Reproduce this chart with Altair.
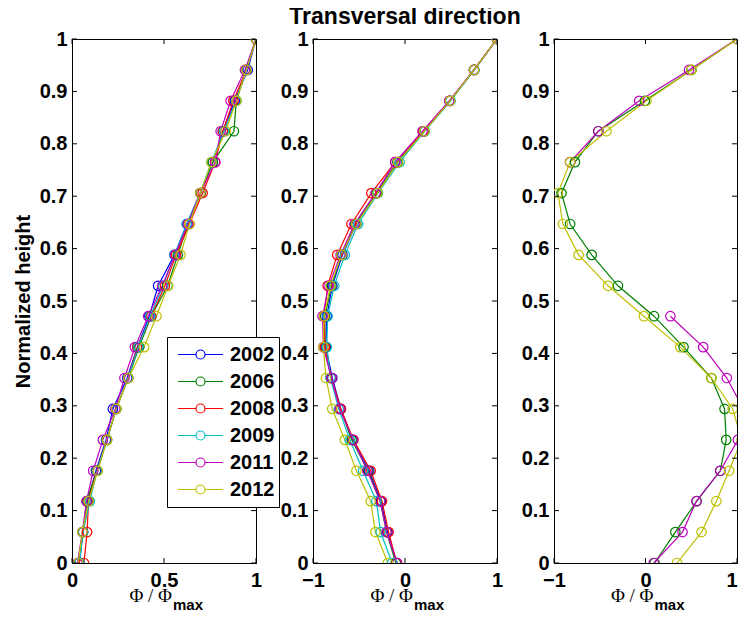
import altair as alt
import pandas as pd

years = ["2002", "2006", "2008", "2009", "2011", "2012"]
colors = ["#0000ff", "#008000", "#ff0000", "#00bfbf", "#bf00bf", "#bfbf00"]

heights = [0.0, 0.059, 0.118, 0.176, 0.235, 0.294, 0.353, 0.412, 0.471,
           0.529, 0.588, 0.647, 0.706, 0.765, 0.824, 0.882, 0.941, 1.0]

# Panel 1 (bottom -> top)
p1_2002 = [0.04, 0.06, 0.085, 0.13, 0.185, 0.222, 0.30, 0.355, 0.42, 0.468, 0.557, 0.624, 0.697, 0.765, 0.82, 0.885, 0.955, 1.0]
p1_2006 = [0.035, 0.06, 0.08, 0.135, 0.19, 0.24, 0.305, 0.365, 0.43, 0.52, 0.575, 0.63, 0.70, 0.765, 0.88, 0.893, 0.945, 1.0]
p1_2008 = [0.065, 0.082, 0.09, 0.135, 0.19, 0.24, 0.305, 0.355, 0.43, 0.505, 0.565, 0.638, 0.71, 0.778, 0.82, 0.877, 0.948, 1.0]
p1_2009 = [0.04, 0.06, 0.097, 0.136, 0.19, 0.24, 0.305, 0.36, 0.425, 0.495, 0.557, 0.624, 0.697, 0.758, 0.826, 0.893, 0.948, 1.0]
p1_2011 = [0.03, 0.056, 0.079, 0.115, 0.168, 0.235, 0.285, 0.342, 0.414, 0.49, 0.56, 0.63, 0.697, 0.778, 0.808, 0.862, 0.94, 1.0]
p1_2012 = [0.034, 0.056, 0.09, 0.14, 0.19, 0.24, 0.306, 0.392, 0.459, 0.522, 0.59, 0.638, 0.697, 0.758, 0.835, 0.893, 0.948, 1.0]

# Panel 2
p2_2002 = [-0.09, -0.19, -0.26, -0.39, -0.57, -0.697, -0.79, -0.86, -0.85, -0.79, -0.68, -0.53, -0.31, -0.08, 0.21, 0.49, 0.75, 1.0]
p2_2006 = [-0.10, -0.20, -0.27, -0.40, -0.58, -0.70, -0.80, -0.87, -0.87, -0.80, -0.69, -0.54, -0.31, -0.08, 0.21, 0.49, 0.75, 1.0]
p2_2008 = [-0.09, -0.178, -0.25, -0.373, -0.56, -0.697, -0.80, -0.87, -0.88, -0.841, -0.737, -0.582, -0.366, -0.106, 0.20, 0.488, 0.751, 1.0]
p2_2009 = [-0.14, -0.265, -0.311, -0.456, -0.60, -0.72, -0.81, -0.85, -0.841, -0.769, -0.654, -0.51, -0.294, -0.059, 0.215, 0.495, 0.755, 1.0]
p2_2011 = [-0.085, -0.20, -0.27, -0.41, -0.564, -0.71, -0.80, -0.888, -0.896, -0.83, -0.70, -0.55, -0.32, -0.106, 0.19, 0.48, 0.75, 1.0]
p2_2012 = [-0.186, -0.322, -0.373, -0.528, -0.654, -0.791, -0.859, -0.888, -0.88, -0.81, -0.69, -0.53, -0.30, -0.075, 0.211, 0.49, 0.751, 1.0]

# Panel 3 (None = gap)
p3_2006 = [0.10, 0.326, 0.56, 0.817, 0.882, 0.864, 0.72, 0.416, 0.093, -0.301, -0.588, -0.824, -0.918, -0.771, -0.516, -0.007, 0.502, 1.0]
p3_2011 = [0.09, 0.405, 0.556, 0.817, 1.01, 1.07, 0.889, 0.631, 0.272, None, None, None, None, -0.824, -0.516, -0.068, 0.476, 1.0]
p3_2012 = [0.344, 0.613, 0.774, 0.914, 1.05, 0.953, 0.72, 0.38, -0.018, -0.409, -0.731, -0.903, -0.957, -0.824, -0.427, 0.01, 0.502, 1.0]

yticks = [0, 0.1, 0.2, 0.3, 0.4, 0.5, 0.6, 0.7, 0.8, 0.9, 1]
xticks1 = [0, 0.5, 1]
xticks23 = [-1, 0, 1]

panel1 = {"2002": p1_2002, "2006": p1_2006, "2008": p1_2008, "2009": p1_2009, "2011": p1_2011, "2012": p1_2012}
panel2 = {"2002": p2_2002, "2006": p2_2006, "2008": p2_2008, "2009": p2_2009, "2011": p2_2011, "2012": p2_2012}
panel3 = {"2006": p3_2006, "2011": p3_2011, "2012": p3_2012}


def frame(panel):
    rows = []
    for yr, vals in panel.items():
        seg = 0
        for h, v in zip(heights, vals):
            if v is None:
                seg += 1
                continue
            rows.append({"year": yr, "h": h, "phi": v, "seg": f"{yr}-{seg}"})
    return pd.DataFrame(rows)


H = 524
FONT = "Liberation Sans"
SYM = "M-1,0L-0.2,0M0.2,0L1,0M0.2,0A0.2,0.2,0,1,1,-0.2,0A0.2,0.2,0,1,1,0.2,0Z"

legend = alt.Legend(
    title=None, orient="none", legendX=95, legendY=298,
    symbolType=SYM, symbolSize=2025, symbolStrokeWidth=1.2,
    symbolFillColor="transparent",
    labelFont=FONT, labelFontSize=20, labelFontWeight="bold", labelColor="black",
    strokeColor="black", fillColor="white", padding=4, clipHeight=27,
    rowPadding=0, symbolOffset=6, labelOffset=6, cornerRadius=0,
)


def make_panel(panel, xdom, xticks, W, first=False, title=None, last=False):
    df = frame(panel)
    xscale = alt.Scale(domain=xdom, nice=False, zero=False)
    yscale = alt.Scale(domain=[0, 1], nice=False, zero=False)
    if last:
        xaxis = alt.Axis(values=xticks, format="~g", title=None,
                         labelAlign={"condition": {"test": "datum.value == 1", "value": "right"},
                                     "value": "center"})
    else:
        xaxis = alt.Axis(values=xticks, format="~g", title=None)
    if first:
        yaxis = alt.Axis(values=yticks, format="~g", title="Normalized height",
                         titleFont=FONT, titleFontSize=20, titleFontWeight="bold",
                         titleColor="black", titlePadding=6)
    else:
        yaxis = alt.Axis(values=yticks, format="~g", title=None)
    xenc = alt.X("phi:Q", scale=xscale, axis=xaxis)
    yenc = alt.Y("h:Q", scale=yscale, axis=yaxis)
    color = alt.Color("year:N", scale=alt.Scale(domain=years, range=colors),
                      legend=legend if first else None)

    lines = alt.Chart(df).mark_line(strokeWidth=1.2, clip=True).encode(
        x=xenc, y=yenc, color=color, detail="seg:N", order="h:Q")
    pts = alt.Chart(df).mark_point(shape="circle", filled=False, size=90,
                                   strokeWidth=1.2, opacity=1, clip=True).encode(
        x=xenc, y=yenc, color=color)

    ydf = pd.DataFrame({"h": yticks})
    xdf = pd.DataFrame({"phi": xticks})
    yl = alt.Chart(ydf).mark_rule(color="black", strokeWidth=1).encode(
        y=yenc, x=alt.value(0), x2=alt.value(5))
    yr = alt.Chart(ydf).mark_rule(color="black", strokeWidth=1).encode(
        y=yenc, x=alt.value(W - 5), x2=alt.value(W))
    xb = alt.Chart(xdf).mark_rule(color="black", strokeWidth=1).encode(
        x=xenc, y=alt.value(H), y2=alt.value(H - 5))
    xt = alt.Chart(xdf).mark_rule(color="black", strokeWidth=1).encode(
        x=xenc, y=alt.value(0), y2=alt.value(5))

    lab = pd.DataFrame({"a": [0]})
    phi = alt.Chart(lab).mark_text(text="Φ / Φ", font="Liberation Serif", fontSize=19,
                                   align="right", baseline="alphabetic", color="black").encode(
        x=alt.value(W / 2 + 8), y=alt.value(H + 39))
    mx = alt.Chart(lab).mark_text(text="max", font=FONT, fontSize=15, fontWeight="bold",
                                  align="left", baseline="alphabetic", color="black").encode(
        x=alt.value(W / 2 + 9), y=alt.value(H + 47))

    props = dict(width=W, height=H)
    if title is not None:
        props["title"] = alt.TitleParams(text=title, font=FONT, fontSize=23, fontWeight="bold",
                                         anchor="middle", frame="group", offset=0, color="black")
    return alt.layer(lines, pts, yl, yr, xb, xt, phi, mx).properties(**props)


c1 = make_panel(panel1, [0, 1], xticks1, 184, first=True)
c2 = make_panel(panel2, [-1, 1], xticks23, 184, title="Transversal direction")
c3 = make_panel(panel3, [-1, 1], xticks23, 183, last=True)

chart = alt.hconcat(c1, c2, c3, spacing=57, bounds="flush").resolve_scale(
    x="independent", y="independent", color="shared"
).resolve_legend(color="independent").configure_view(
    stroke="black", strokeWidth=1
).configure_axis(
    domainColor="black", domainWidth=1, ticks=False, grid=False,
    labelFont=FONT, labelFontSize=20, labelFontWeight="bold", labelColor="black",
    labelPadding=5, labelFlush=False, labelOverlap=False,
).configure_axisX(labelPadding=7).properties(
    padding={"left": 4, "top": -3, "right": 0, "bottom": -2}
)

chart.save("out.html", embed_options={"renderer": "svg", "actions": False})
